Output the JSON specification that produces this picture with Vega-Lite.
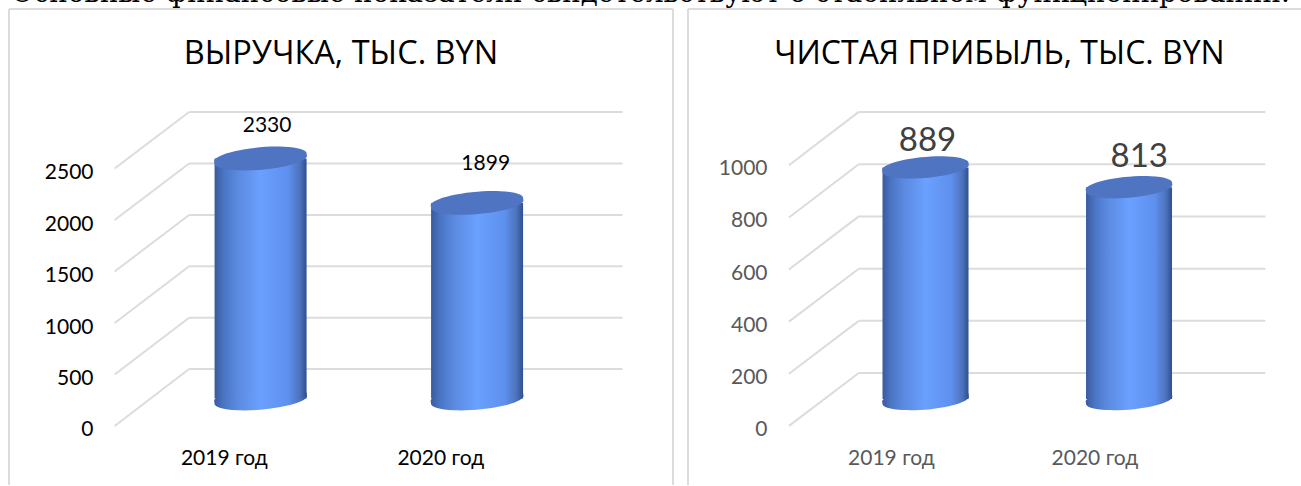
{
"$schema":"https://vega.github.io/schema/vega-lite/v6.json",
"padding":{"left":8,"top":-20,"right":0,"bottom":0},
"background":"white",
"title":{"text":"Основные финансовые показатели свидетельствуют о стабильном функционировании.","anchor":"start","frame":"group","font":"DejaVu Serif","fontSize":27.7,"fontWeight":"normal","color":"#000000","offset":0,"dx":2},
"config":{"view":{"stroke":null},"axis":{"grid":false,"domain":false,"ticks":false,"title":null,"labelPadding":0}},
"spacing":13,
"hconcat":[
{
"width":664,"height":476,
"title":{"text":"ВЫРУЧКА, ТЫС. BYN","font":"Open Sans","fontSize":32.5,"fontWeight":"normal","color":"#000000","anchor":"middle","baseline":"alphabetic","offset":-88},
"data":{"values":[{"year":2019,"value":2330,"labelX":2019.03,"labelY":2650},{"year":2020,"value":1899,"labelX":2020.04,"labelY":2275}]},
"layer":[
{"data":{"values":[{"tick":0,"front":-267,"back":286},{"tick":500,"front":233,"back":784},{"tick":1000,"front":733,"back":1284},{"tick":1500,"front":1233,"back":1782},{"tick":2000,"front":1733,"back":2282},{"tick":2500,"front":2233,"back":2782}]},
 "mark":{"type":"rule","color":"#dcdcdc","strokeWidth":2},
 "encoding":{"x":{"datum":2018.67,"type":"quantitative","scale":{"domain":[2017.838,2020.905],"nice":false,"zero":false,"padding":0},"axis":{"values":[2018.83,2019.83],"labelExpr":"datum.value<2019?'2019 год':'2020 год'","labelFont":"Lato","labelFontSize":21,"labelColor":"#000000","offset":-38,"labelBaseline":"top"}},"x2":{"datum":2020.672},"y":{"field":"back","type":"quantitative","scale":{"domain":[-840,3782],"nice":false,"zero":false},"axis":{"values":[-267,233,733,1233,1733,2233],"labelExpr":"round(datum.value+267)","labelFont":"Lato","labelFontSize":21,"labelColor":"#000000","offset":-84,"labelOffset":4}}}},
{"data":{"values":[{"tick":0,"front":-267,"back":286},{"tick":500,"front":233,"back":784},{"tick":1000,"front":733,"back":1284},{"tick":1500,"front":1233,"back":1782},{"tick":2000,"front":1733,"back":2282},{"tick":2500,"front":2233,"back":2782}]},
 "mark":{"type":"rule","color":"#dcdcdc","strokeWidth":2},
 "encoding":{"x":{"datum":2018.326,"type":"quantitative"},"x2":{"datum":2018.67},"y":{"field":"front","type":"quantitative"},"y2":{"field":"back"}}},
{"mark":{"type":"point","shape":"M-1,0.09 A1.01,0.22 -5 1 1 1,-0.09 A1.01,0.22 -5 1 1 -1,0.09 Z","filled":true,"size":8464,"opacity":1,"strokeWidth":0,"fill":{"gradient":"linear","x1":0,"x2":1,"y1":0,"y2":0,"stops":[{"offset":0,"color":"#3a5a9c"},{"offset":0.1,"color":"#4a75c4"},{"offset":0.25,"color":"#5b8ae0"},{"offset":0.5,"color":"#6aa0ff"},{"offset":0.8,"color":"#5e90ee"},{"offset":0.93,"color":"#4c72bb"},{"offset":1,"color":"#2f4f8f"}]}},
 "encoding":{"x":{"field":"year","type":"quantitative"},"y":{"datum":0,"type":"quantitative"}}},
{"mark":{"type":"bar","width":92,"fill":{"gradient":"linear","x1":0,"x2":1,"y1":0,"y2":0,"stops":[{"offset":0,"color":"#3a5a9c"},{"offset":0.1,"color":"#4a75c4"},{"offset":0.25,"color":"#5b8ae0"},{"offset":0.5,"color":"#6aa0ff"},{"offset":0.8,"color":"#5e90ee"},{"offset":0.93,"color":"#4c72bb"},{"offset":1,"color":"#2f4f8f"}]}},
 "encoding":{"x":{"field":"year","type":"quantitative"},"y":{"field":"value","type":"quantitative","stack":null}}},
{"mark":{"type":"point","shape":"M-1,0.09 A1.01,0.22 -5 1 1 1,-0.09 A1.01,0.22 -5 1 1 -1,0.09 Z","filled":true,"size":8464,"opacity":1,"strokeWidth":0,"fill":"#4f74c2"},
 "encoding":{"x":{"field":"year","type":"quantitative"},"y":{"field":"value","type":"quantitative"}}},
{"mark":{"type":"text","font":"Lato","fontSize":21,"color":"#000000","align":"center","baseline":"middle"},
 "encoding":{"x":{"field":"labelX","type":"quantitative"},"y":{"field":"labelY","type":"quantitative"},"text":{"field":"value","type":"quantitative","format":"d"}}},
{"mark":{"type":"rule","color":"#dcdcdc","strokeWidth":2},"encoding":{"x":{"datum":2017.838,"type":"quantitative"}}},
{"mark":{"type":"rule","color":"#dcdcdc","strokeWidth":2},"encoding":{"x":{"datum":2020.905,"type":"quantitative"}}},
{"mark":{"type":"rule","color":"#dcdcdc","strokeWidth":2},"encoding":{"y":{"datum":3782,"type":"quantitative"}}}
]
},
{
"width":613,"height":476,
"title":{"text":"ЧИСТАЯ ПРИБЫЛЬ, ТЫС. BYN","font":"Open Sans","fontSize":32,"fontWeight":"normal","color":"#000000","anchor":"middle","baseline":"alphabetic","offset":-88,"dx":5},
"data":{"values":[{"year":2019,"value":889,"labelX":2019.01,"labelY":990},{"year":2020,"value":813,"labelX":2020.05,"labelY":930}]},
"layer":[
{"data":{"values":[{"tick":0,"front":-103,"back":100},{"tick":200,"front":97,"back":300},{"tick":400,"front":297,"back":500},{"tick":600,"front":497,"back":701},{"tick":800,"front":697,"back":901},{"tick":1000,"front":897,"back":1102}]},
 "mark":{"type":"rule","color":"#dcdcdc","strokeWidth":2},
 "encoding":{"x":{"datum":2018.672,"type":"quantitative","scale":{"domain":[2017.833,2020.845],"nice":false,"zero":false,"padding":0},"axis":{"values":[2018.83,2019.83],"labelExpr":"datum.value<2019?'2019 год':'2020 год'","labelFont":"Lato","labelFontSize":21,"labelColor":"#595959","offset":-38,"labelBaseline":"top"}},"x2":{"datum":2020.67},"y":{"field":"back","type":"quantitative","scale":{"domain":[-330,1497],"nice":false,"zero":false},"axis":{"values":[-103,97,297,497,697,897],"labelExpr":"round(datum.value+103)","labelFont":"Lato","labelFontSize":21,"labelColor":"#595959","offset":-79,"labelOffset":3.5}}}},
{"data":{"values":[{"tick":0,"front":-103,"back":100},{"tick":200,"front":97,"back":300},{"tick":400,"front":297,"back":500},{"tick":600,"front":497,"back":701},{"tick":800,"front":697,"back":901},{"tick":1000,"front":897,"back":1102}]},
 "mark":{"type":"rule","color":"#dcdcdc","strokeWidth":2},
 "encoding":{"x":{"datum":2018.329,"type":"quantitative"},"x2":{"datum":2018.672},"y":{"field":"front","type":"quantitative"},"y2":{"field":"back"}}},
{"mark":{"type":"point","shape":"M-1,0.09 A1.01,0.22 -5 1 1 1,-0.09 A1.01,0.22 -5 1 1 -1,0.09 Z","filled":true,"size":7396,"opacity":1,"strokeWidth":0,"fill":{"gradient":"linear","x1":0,"x2":1,"y1":0,"y2":0,"stops":[{"offset":0,"color":"#3a5a9c"},{"offset":0.1,"color":"#4a75c4"},{"offset":0.25,"color":"#5b8ae0"},{"offset":0.5,"color":"#6aa0ff"},{"offset":0.8,"color":"#5e90ee"},{"offset":0.93,"color":"#4c72bb"},{"offset":1,"color":"#2f4f8f"}]}},
 "encoding":{"x":{"field":"year","type":"quantitative"},"y":{"datum":0,"type":"quantitative"}}},
{"mark":{"type":"bar","width":86,"fill":{"gradient":"linear","x1":0,"x2":1,"y1":0,"y2":0,"stops":[{"offset":0,"color":"#3a5a9c"},{"offset":0.1,"color":"#4a75c4"},{"offset":0.25,"color":"#5b8ae0"},{"offset":0.5,"color":"#6aa0ff"},{"offset":0.8,"color":"#5e90ee"},{"offset":0.93,"color":"#4c72bb"},{"offset":1,"color":"#2f4f8f"}]}},
 "encoding":{"x":{"field":"year","type":"quantitative"},"y":{"field":"value","type":"quantitative","stack":null}}},
{"mark":{"type":"point","shape":"M-1,0.09 A1.01,0.22 -5 1 1 1,-0.09 A1.01,0.22 -5 1 1 -1,0.09 Z","filled":true,"size":7396,"opacity":1,"strokeWidth":0,"fill":"#4f74c2"},
 "encoding":{"x":{"field":"year","type":"quantitative"},"y":{"field":"value","type":"quantitative"}}},
{"mark":{"type":"text","font":"Lato","fontSize":33,"color":"#404040","align":"center","baseline":"middle"},
 "encoding":{"x":{"field":"labelX","type":"quantitative"},"y":{"field":"labelY","type":"quantitative"},"text":{"field":"value","type":"quantitative","format":"d"}}},
{"mark":{"type":"rule","color":"#dcdcdc","strokeWidth":2},"encoding":{"x":{"datum":2017.833,"type":"quantitative"}}},
{"mark":{"type":"rule","color":"#dcdcdc","strokeWidth":2},"encoding":{"y":{"datum":1497,"type":"quantitative"}}}
]
}
]
}
